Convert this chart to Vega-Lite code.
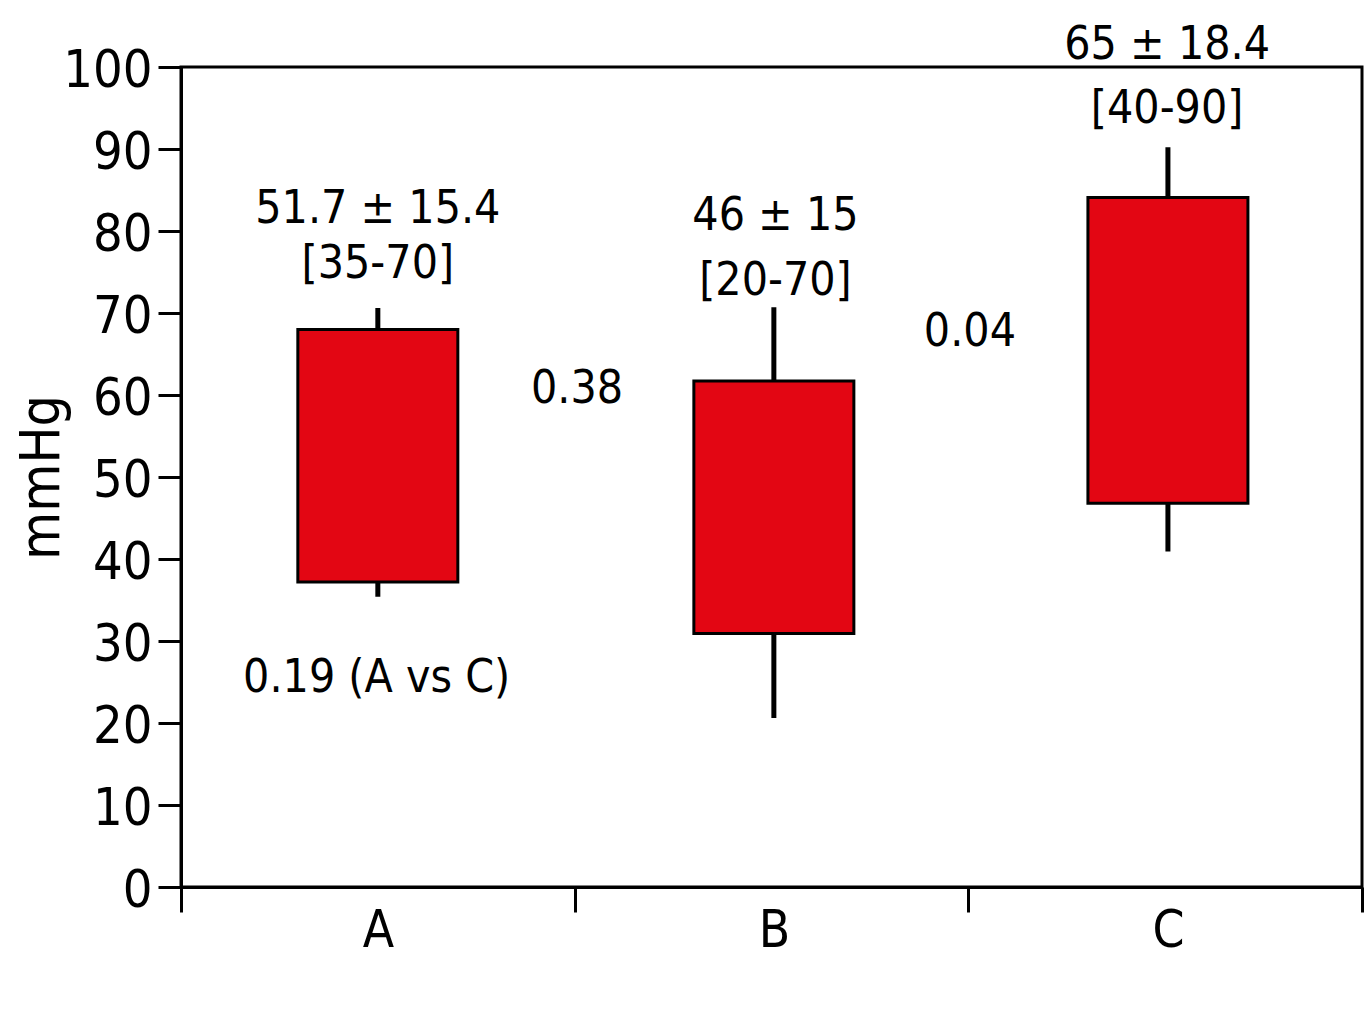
{
  "$schema": "https://vega.github.io/schema/vega-lite/v6.json",
  "width": 1181,
  "height": 820,
  "autosize": {"type": "none"},
  "padding": {"left": 181, "top": 67, "right": 5, "bottom": 137},
  "background": "white",
  "config": {
    "view": {"stroke": "black", "strokeWidth": 3},
    "font": "DejaVu Sans Condensed, Liberation Sans, sans-serif"
  },
  "datasets": {
    "boxes": [
      {"group": "A", "pos": 0.5, "lo": 35.4, "q1": 37.2, "q3": 68.0, "hi": 70.6},
      {"group": "B", "pos": 1.506, "lo": 20.6, "q1": 30.9, "q3": 61.7, "hi": 70.7},
      {"group": "C", "pos": 2.507, "lo": 40.9, "q1": 46.8, "q3": 84.1, "hi": 90.2}
    ],
    "notes": [
      {"pos": 0.5, "y": 81.0, "text": "51.7 ± 15.4"},
      {"pos": 0.5, "y": 74.3, "text": "[35-70]"},
      {"pos": 1.51, "y": 80.1, "text": "46 ± 15"},
      {"pos": 1.51, "y": 72.2, "text": "[20-70]"},
      {"pos": 2.505, "y": 101.0, "text": "65 ± 18.4"},
      {"pos": 2.505, "y": 93.2, "text": "[40-90]"},
      {"pos": 1.006, "y": 59.0, "text": "0.38"},
      {"pos": 2.004, "y": 66.0, "text": "0.04"},
      {"pos": 0.497, "y": 23.8, "text": "0.19 (A vs C)"}
    ]
  },
  "encoding": {
    "x": {
      "type": "quantitative",
      "scale": {"domain": [0, 3], "nice": false, "zero": false, "padding": 0},
      "axis": {
        "title": null,
        "grid": false,
        "values": [0, 0.5, 1, 1.506, 2, 2.507, 3],
        "labelExpr": "datum.value % 1 === 0 ? '' : datum.value < 1 ? 'A' : datum.value < 2 ? 'B' : 'C'",
        "tickOpacity": {"condition": {"test": "datum.value % 1 === 0", "value": 1}, "value": 0},
        "tickSize": 25,
        "tickWidth": 3,
        "tickColor": "black",
        "domainColor": "black",
        "domainWidth": 3,
        "labelFont": "DejaVu Sans Condensed, Liberation Sans, sans-serif",
        "labelFontSize": 51,
        "labelColor": "black",
        "labelPadding": -6,
        "labelOverlap": false,
        "labelFlush": false,
        "labelBound": false
      }
    },
    "y": {
      "type": "quantitative",
      "scale": {"domain": [0, 100], "nice": false, "zero": true},
      "axis": {
        "title": "mmHg",
        "grid": false,
        "values": [0, 10, 20, 30, 40, 50, 60, 70, 80, 90, 100],
        "tickSize": 23,
        "tickWidth": 3,
        "tickColor": "black",
        "domainColor": "black",
        "domainWidth": 3,
        "labelFont": "DejaVu Sans Condensed, Liberation Sans, sans-serif",
        "labelFontSize": 52,
        "labelColor": "black",
        "labelPadding": 6,
        "labelOffset": 3,
        "titleFont": "DejaVu Sans Condensed, Liberation Sans, sans-serif",
        "titleFontSize": 55,
        "titleFontWeight": "normal",
        "titleColor": "black",
        "titlePadding": -8
      }
    }
  },
  "layer": [
    {
      "data": {"name": "boxes"},
      "mark": {"type": "rule", "color": "black", "strokeWidth": 5},
      "encoding": {
        "x": {"field": "pos"},
        "y": {"field": "lo"},
        "y2": {"field": "hi"}
      }
    },
    {
      "data": {"name": "boxes"},
      "mark": {"type": "bar", "width": 160, "fill": "#e30613", "stroke": "black", "strokeWidth": 3},
      "encoding": {
        "x": {"field": "pos"},
        "y": {"field": "q1"},
        "y2": {"field": "q3"}
      }
    },
    {
      "data": {"name": "notes"},
      "mark": {"type": "text", "font": "DejaVu Sans Condensed, Liberation Sans, sans-serif", "fontSize": 46, "color": "black", "align": "center", "baseline": "alphabetic"},
      "encoding": {
        "x": {"field": "pos"},
        "y": {"field": "y"},
        "text": {"field": "text"}
      }
    }
  ]
}
